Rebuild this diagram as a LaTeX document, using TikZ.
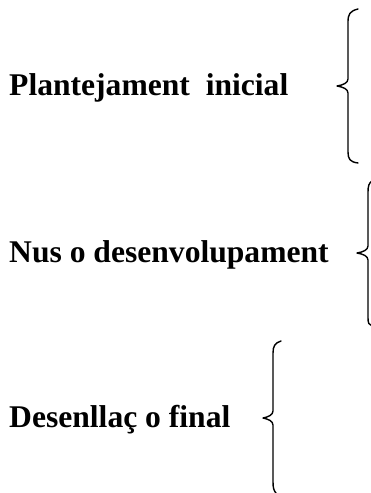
\documentclass[tikz,border=0pt]{standalone}
\usepackage{fontspec}
\setmainfont{Liberation Serif}
\begin{document}
\begin{tikzpicture}[x=1pt,y=-1pt,
  lbl/.style={anchor=base west,inner sep=0pt,font=\fontsize{31.6}{36}\selectfont\bfseries},
  brace/.style={line width=1.4pt,line cap=round,line join=round}]
\useasboundingbox (0,0) rectangle (371,493);
\node[lbl] (t1) at (9,95) {Plantejament\ \ inicial};
\node[lbl] (t2) at (9,262) {Nus o desenvolupament};
\node[lbl] (t3) at (9,427) {Desenllaç o final};
% brace 1
\draw[brace] (358,9) .. controls (350,11) and (348,14) .. (348,22) -- (348,79)
  .. controls (348,83) and (343,85) .. (337,86)
  .. controls (343,87) and (348,89) .. (348,93) -- (348,152)
  .. controls (348,159) and (350,162) .. (358,163);
% brace 2
\draw[brace] (372,181) .. controls (369,183) and (368,186) .. (368,192) -- (368,246)
  .. controls (368,250) and (363,252) .. (357,253)
  .. controls (363,254) and (368,256) .. (368,260) -- (368,318)
  .. controls (368,323) and (369,325) .. (372,326);
% brace 3
\draw[brace] (281,341) .. controls (275,343) and (273,346) .. (273,353) -- (273,411)
  .. controls (273,415) and (268,417) .. (263,418)
  .. controls (268,419) and (273,421) .. (273,425) -- (273,482)
  .. controls (273,488) and (274,491) .. (276,493);
\end{tikzpicture}
\end{document}
